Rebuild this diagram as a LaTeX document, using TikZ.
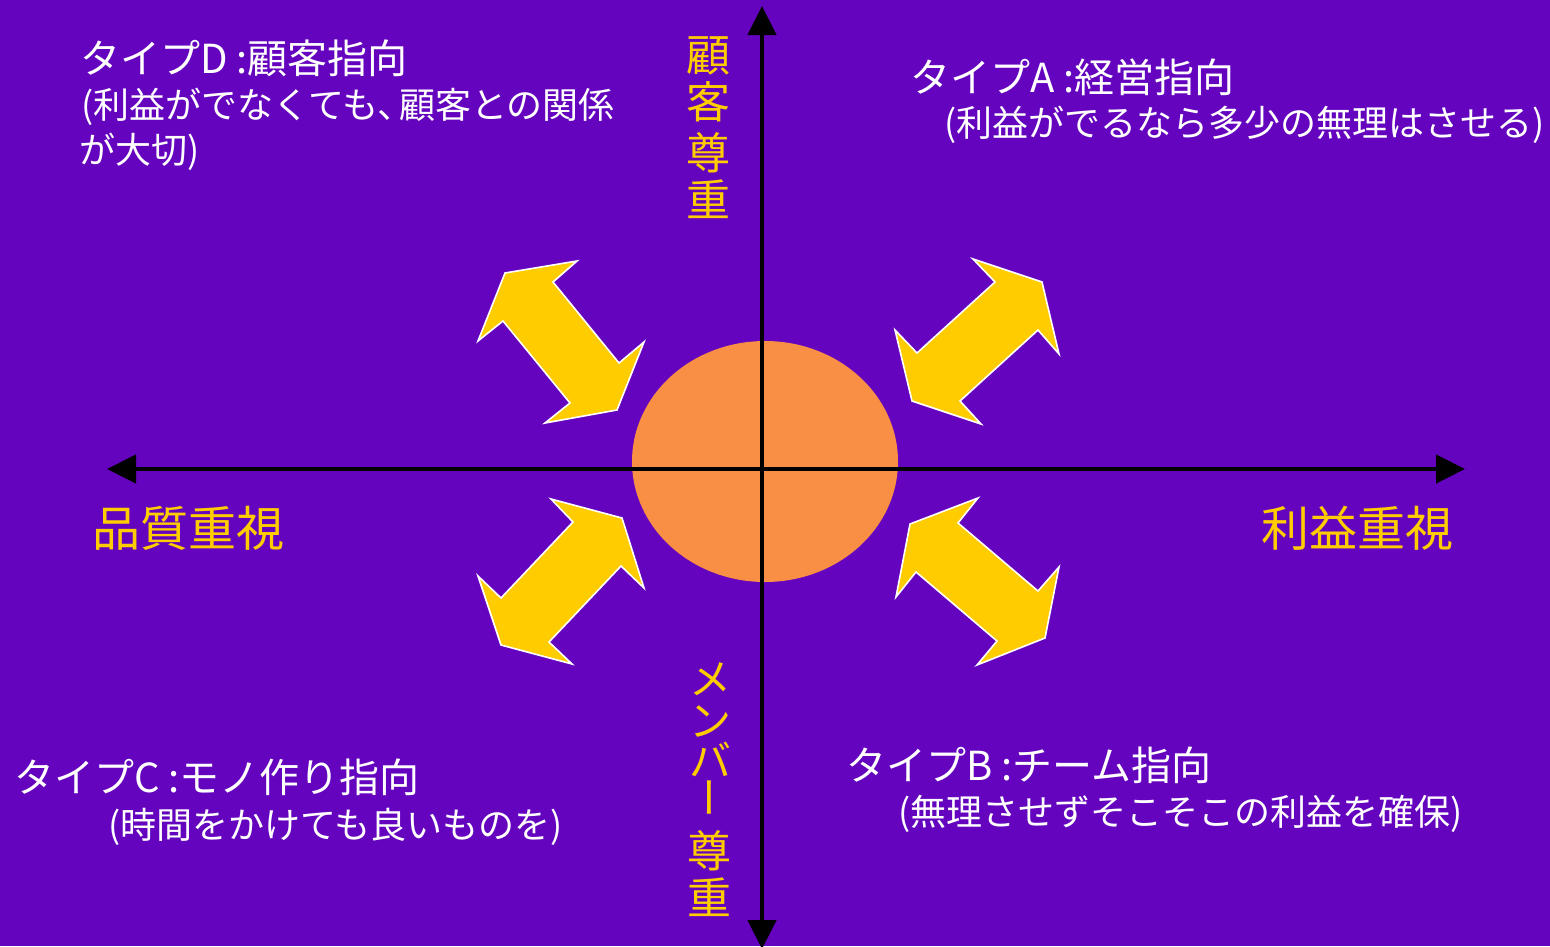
\documentclass[tikz,border=0pt]{standalone}
\usepackage{fontspec}
\setmainfont{Noto Sans CJK JP}
\usepackage{graphicx}
\usetikzlibrary{arrows.meta,shapes.geometric}
\definecolor{bgpurple}{RGB}{100,4,190}
\definecolor{gold}{RGB}{255,204,0}
\definecolor{orangefill}{RGB}{249,143,69}
\tikzset{
 axisline/.style={line width=4.5pt, draw=black, {Triangle[length=29pt,width=28pt]}-{Triangle[length=29pt,width=28pt]}},
 bigarrow/.style={fill=gold, draw=white, line width=1.6pt, line join=miter},
 typetitle/.style={anchor=west, text=white, font=\fontsize{40}{42}\selectfont, inner sep=0pt, text height=35.2pt, text depth=4.8pt},
 typesub/.style={anchor=west, text=white, font=\fontsize{36}{38}\selectfont, inner sep=0pt, text height=31.68pt, text depth=4.32pt},
 axlabel/.style={text=gold, font=\fontsize{48}{50}\selectfont, inner sep=0pt, text height=42.24pt, text depth=5.76pt},
 vlabel/.style={text=gold, font=\fontsize{44}{46}\selectfont, inner sep=0pt, text height=38.72pt, text depth=5.28pt},
 vkana/.style={text=gold, font=\fontsize{42}{44}\selectfont, inner sep=0pt, text height=32pt, text depth=0pt},
}
\begin{document}
\begin{tikzpicture}[x=1pt,y=-1pt]
\fill[bgpurple] (0,0) rectangle (1550,946);
\useasboundingbox (0,0) rectangle (1550,946);

% central ellipse
\node[ellipse, fill=orangefill, minimum width=266pt, minimum height=241pt, inner sep=0pt, draw=none] (core) at (765,461.5) {};

% double arrows
\draw[bigarrow] (505,273) -- (577,261) -- (553,282) -- (619,363) -- (644,342) -- (617,410) -- (545,423) -- (570,403) -- (503,321) -- (478,341) -- cycle;
\draw[bigarrow] (973,259) -- (1042,282) -- (1059,354) -- (1038,330) -- (960,401) -- (981,424) -- (912,401) -- (895,330) -- (917,353) -- (995,282) -- cycle;
\draw[bigarrow] (551,499) -- (622,518) -- (644,588) -- (621,566) -- (549,642) -- (572,664) -- (501,645) -- (478,576) -- (501,598) -- (573,522) -- cycle;
\draw[bigarrow] (978,498) -- (958,523) -- (1038,591) -- (1059,567) -- (1045,638) -- (977,665) -- (997,641) -- (916,572) -- (896,597) -- (910,524) -- cycle;

% axes
\coordinate (xl) at (107,469);
\coordinate (xr) at (1465,469);
\coordinate (yt) at (762,6);
\coordinate (yb) at (762,949);
\draw[axisline] (xl) -- (xr);
\draw[axisline] (yb) -- (yt);

% quadrant texts
\node[typetitle] (dt) at (80,58) {タイプD :顧客指向};
\node[typesub] (ds1) at (81,105) {(利益がでなくても、\kern-0.4em顧客との関係};
\node[typesub] (ds2) at (79,150) {が大切)};

\node[typetitle] (at) at (910,77) {タイプA :経営指向};
\node[typesub] (as) at (944,123) {(利益がでるなら多少の無理はさせる)};

\node[typetitle] (ct) at (14,777) {タイプC :モノ作り指向};
\node[typesub] (cs) at (108,825) {(時間をかけても良いものを)};

\node[typetitle] (bt) at (846,765) {タイプB :チーム指向};
\node[typesub] (bs) at (898,812) {(無理させずそこそこの利益を確保)};

% axis labels
\node[axlabel] (lq) at (188,528) {品質重視};
\node[axlabel] (lp) at (1357,528) {利益重視};

\node[vlabel] (v1) at (708,55) {顧};
\node[vlabel] (v2) at (708,102) {客};
\node[vlabel] (v3) at (708,153) {尊};
\node[vlabel] (v4) at (708,200) {重};

\node[vkana] (m1) at (710,678) {メ};
\node[vkana] (m2) at (710,720) {ン};
\node[vkana] (m3) at (710,760) {バ};
\node[vkana, rotate=90] (m4) at (709,797) {ー};
\node[vlabel] (m5) at (709,851) {尊};
\node[vlabel] (m6) at (709,898) {重};
\end{tikzpicture}
\end{document}
